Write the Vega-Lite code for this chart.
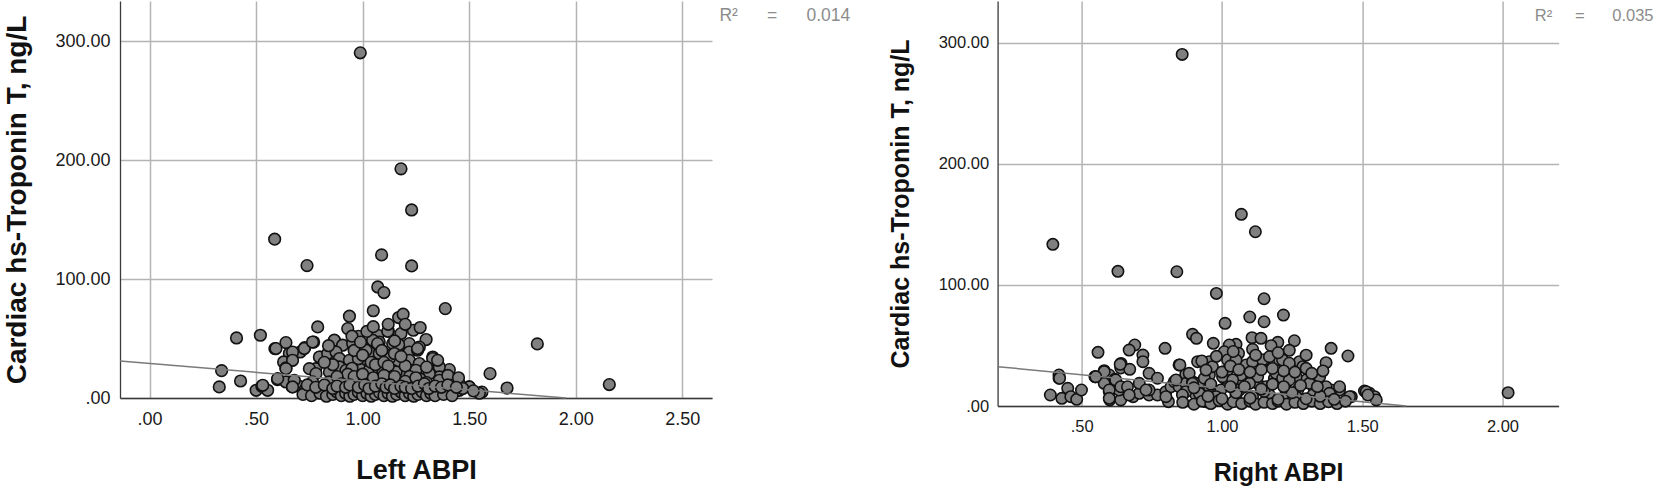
{
"$schema": "https://vega.github.io/schema/vega-lite/v6.json",
"background": "white",
"padding": {"left": 3, "top": 1, "right": 0, "bottom": 0},
"bounds": "flush",
"spacing": 285.6,
"config": {
  "view": {"stroke": null},
  "axis": {"grid": true, "gridColor": "#b4b4b4", "gridWidth": 1.5, "domainColor": "#3a3a3a", "domainWidth": 1.3, "ticks": false, "labelFont": "Liberation Sans", "labelColor": "#1a1a1a", "titleFont": "Liberation Sans", "titleFontWeight": "bold", "titleColor": "#111111", "labelFlush": false, "labelOverlap": false}
},
"datasets": {
  "left": [
{"x":0.989,"y":290.4},{"x":1.180,"y":192.8},{"x":1.230,"y":158.2},{"x":0.587,"y":133.6},{"x":0.739,"y":111.4},{"x":1.089,"y":120.4},{"x":1.230,"y":111.1},{"x":1.071,"y":93.4},{"x":1.100,"y":88.7},{"x":1.050,"y":73.4},{"x":1.169,"y":67.7},{"x":1.190,"y":70.5},{"x":0.938,"y":68.8},{"x":1.388,"y":75.2},{"x":1.820,"y":45.5},{"x":2.158,"y":11.3},{"x":1.598,"y":20.5},{"x":1.678,"y":8.4},{"x":1.560,"y":5.0},{"x":1.500,"y":9.3},{"x":1.407,"y":23.9},
{"x":0.338,"y":23.0},{"x":0.327,"y":9.3},{"x":0.427,"y":14.3},{"x":0.408,"y":50.5},{"x":0.520,"y":52.8},{"x":0.588,"y":41.6},{"x":0.640,"y":46.6},{"x":0.789,"y":59.8},{"x":0.770,"y":47.1},{"x":0.728,"y":42.4},{"x":0.707,"y":38.7},{"x":0.656,"y":37.4},{"x":0.668,"y":31.7},{"x":0.629,"y":30.3},{"x":0.640,"y":25.3},{"x":0.869,"y":48.0},{"x":0.800,"y":34.5},{"x":0.780,"y":24.7},
{"x":0.500,"y":6.5},{"x":0.527,"y":9.8},{"x":0.554,"y":6.5},{"x":0.600,"y":15.5},{"x":0.640,"y":13.5},{"x":0.670,"y":9.3},{"x":0.700,"y":10.0},{"x":0.730,"y":7.0},
{"x":0.930,"y":58.4},{"x":0.980,"y":51.9},{"x":1.121,"y":56.4},{"x":1.180,"y":54.2},{"x":1.238,"y":57.0},{"x":1.270,"y":59.3},{"x":1.298,"y":49.2},{"x":1.071,"y":52.8},{"x":0.867,"y":48.6},{"x":0.906,"y":44.4},{"x":0.953,"y":45.8},{"x":1.008,"y":44.4},{"x":1.055,"y":44.4},{"x":1.078,"y":47.1},{"x":1.141,"y":45.8},{"x":1.172,"y":44.4},{"x":1.219,"y":45.8},{"x":1.266,"y":42.9},{"x":1.219,"y":38.7},{"x":1.258,"y":40.2},{"x":1.329,"y":34.5},{"x":1.345,"y":31.7},{"x":0.593,"y":41.6},{"x":0.726,"y":41.6},{"x":0.765,"y":47.1},{"x":0.671,"y":38.7},{"x":0.671,"y":31.7},{"x":0.640,"y":24.7},
{"x":0.797,"y":34.5},{"x":0.836,"y":37.4},{"x":0.875,"y":38.7},{"x":0.891,"y":33.2},{"x":0.891,"y":26.1},{"x":0.938,"y":31.7},{"x":0.992,"y":31.7},{"x":1.031,"y":38.7},{"x":1.078,"y":37.4},{"x":1.125,"y":35.9},{"x":1.157,"y":30.3},{"x":1.219,"y":31.7},{"x":1.266,"y":29.0},{"x":1.329,"y":33.2},{"x":1.360,"y":26.1},{"x":1.360,"y":17.7},{"x":1.407,"y":14.9},
{"x":0.750,"y":24.7},{"x":0.781,"y":20.5},{"x":0.844,"y":21.9},{"x":0.922,"y":23.3},{"x":0.985,"y":24.7},{"x":1.031,"y":23.3},{"x":1.078,"y":23.3},{"x":1.141,"y":23.3},{"x":1.188,"y":21.9},{"x":1.235,"y":23.3},{"x":1.298,"y":21.9},
{"x":0.601,"y":16.3},{"x":0.679,"y":14.9},{"x":0.765,"y":13.5},{"x":0.844,"y":13.5},{"x":0.922,"y":14.9},{"x":0.969,"y":14.9},{"x":1.031,"y":13.5},{"x":1.078,"y":16.3},{"x":1.157,"y":14.9},{"x":1.235,"y":12.1},{"x":1.282,"y":9.3},{"x":1.360,"y":13.5},{"x":1.438,"y":12.1},{"x":1.501,"y":9.3},
{"x":0.531,"y":10.7},{"x":0.671,"y":9.3},{"x":0.750,"y":7.9},{"x":0.820,"y":5.1},{"x":0.906,"y":7.9},{"x":1.016,"y":6.5},{"x":1.094,"y":7.9},{"x":1.172,"y":6.5},{"x":1.235,"y":3.7},{"x":1.313,"y":6.5},{"x":1.376,"y":5.1},{"x":1.454,"y":6.5},{"x":1.548,"y":4.0},
{"x":0.980,"y":33.0},{"x":0.950,"y":25.0},{"x":0.930,"y":20.0},{"x":1.091,"y":24.7},{"x":1.157,"y":21.9},{"x":1.250,"y":23.3},{"x":1.313,"y":20.5},{"x":1.360,"y":14.9},{"x":1.430,"y":13.5},{"x":1.454,"y":12.1},{"x":1.118,"y":56.1},{"x":1.047,"y":48.6},{"x":1.016,"y":40.2},{"x":1.070,"y":45.8},{"x":1.169,"y":44.9},{"x":1.258,"y":41.6},{"x":1.352,"y":31.7},{"x":1.125,"y":33.2},{"x":1.149,"y":37.4},
{"x":0.96,"y":40},{"x":1.0,"y":36},{"x":1.04,"y":30},{"x":1.06,"y":28},{"x":1.10,"y":30},{"x":1.12,"y":27},{"x":1.2,"y":27},{"x":1.18,"y":35},{"x":1.22,"y":18},{"x":1.27,"y":16},{"x":1.3,"y":13},{"x":0.88,"y":18},{"x":0.86,"y":28},{"x":0.82,"y":30},{"x":0.84,"y":44},{"x":0.95,"y":52},{"x":1.02,"y":56},{"x":0.99,"y":47},{"x":1.05,"y":60},{"x":1.15,"y":48},{"x":1.09,"y":40},{"x":1.2,"y":62},{"x":1.12,"y":62},{"x":0.9,"y":12},{"x":0.96,"y":18},{"x":1.0,"y":20},{"x":1.05,"y":17},{"x":1.1,"y":19},{"x":1.15,"y":18},{"x":1.2,"y":14},{"x":1.25,"y":17},{"x":1.3,"y":26},{"x":1.4,"y":19},{"x":1.45,"y":17},{"x":1.47,"y":8},{"x":1.52,"y":6},{"x":1.42,"y":7},
{"x":0.72,"y":3},{"x":0.76,"y":2},{"x":0.8,"y":4},{"x":0.83,"y":1.5},{"x":0.86,"y":3},{"x":0.88,"y":5},{"x":0.9,"y":2},{"x":0.92,"y":4},{"x":0.94,"y":1.5},{"x":0.96,"y":3},{"x":0.98,"y":5},{"x":1.0,"y":2},{"x":1.02,"y":4},{"x":1.04,"y":1.5},{"x":1.06,"y":3},{"x":1.08,"y":4.5},{"x":1.1,"y":2},{"x":1.12,"y":4},{"x":1.14,"y":1.5},{"x":1.16,"y":3},{"x":1.18,"y":5},{"x":1.2,"y":2},{"x":1.22,"y":4},{"x":1.24,"y":1.5},{"x":1.26,"y":3},{"x":1.28,"y":5},{"x":1.3,"y":2},{"x":1.32,"y":4},{"x":1.34,"y":2},{"x":1.38,"y":3},{"x":1.42,"y":2},
{"x":0.74,"y":11},{"x":0.78,"y":9},{"x":0.82,"y":11},{"x":0.86,"y":8},{"x":0.88,"y":10},{"x":0.92,"y":9},{"x":0.94,"y":11},{"x":0.98,"y":9},{"x":1.01,"y":11},{"x":1.03,"y":8},{"x":1.06,"y":10},{"x":1.09,"y":12},{"x":1.11,"y":9},{"x":1.13,"y":11},{"x":1.15,"y":8},{"x":1.18,"y":10},{"x":1.2,"y":9},{"x":1.23,"y":8},{"x":1.26,"y":10},{"x":1.29,"y":12},{"x":1.31,"y":8},{"x":1.34,"y":10},{"x":1.37,"y":9},{"x":1.4,"y":11},{"x":1.44,"y":9}
  ],
  "right": [
{"x":0.858,"y":290.4},{"x":1.069,"y":158.3},{"x":1.119,"y":143.9},{"x":0.397,"y":133.5},{"x":0.629,"y":111.2},{"x":0.839,"y":110.9},{"x":0.980,"y":93.0},{"x":1.150,"y":88.6},{"x":1.219,"y":75.1},{"x":1.099,"y":73.5},{"x":1.150,"y":69.6},{"x":1.011,"y":68.3},{"x":0.895,"y":59.2},{"x":0.909,"y":55.9},{"x":0.969,"y":51.8},{"x":0.797,"y":47.6},{"x":0.689,"y":50.4},{"x":0.669,"y":46.2},{"x":0.718,"y":42.1},{"x":0.718,"y":36.6},{"x":0.558,"y":44.3},{"x":0.640,"y":35.2},{"x":0.639,"y":31.4},{"x":0.671,"y":30.3},{"x":0.549,"y":24.2},{"x":0.580,"y":29.2},{"x":0.598,"y":25.6},{"x":0.618,"y":22.0},{"x":0.419,"y":25.6},{"x":0.419,"y":22.9},{"x":0.388,"y":9.1},{"x":0.429,"y":6.3},{"x":0.450,"y":14.6},{"x":0.461,"y":7.7},{"x":0.482,"y":5.5},{"x":0.499,"y":13.2},
{"x":1.389,"y":47.6},{"x":1.449,"y":41.3},{"x":1.371,"y":35.8},{"x":1.347,"y":24.2},{"x":1.419,"y":14.6},{"x":1.461,"y":7.7},{"x":1.508,"y":12.4},{"x":1.526,"y":10.5},{"x":1.544,"y":7.7},{"x":1.550,"y":5.0},{"x":2.020,"y":11.0},{"x":1.258,"y":53.9},{"x":1.199,"y":52.6},
{"x":1.107,"y":56.4},{"x":1.139,"y":55.9},{"x":1.050,"y":50.9},{"x":1.026,"y":50.4},{"x":1.109,"y":46.8},{"x":1.175,"y":49.8},{"x":1.008,"y":44.8},{"x":1.059,"y":43.5},
{"x":1.276,"y":36.6},{"x":1.205,"y":38.0},{"x":1.151,"y":38.0},{"x":1.020,"y":38.0},{"x":0.955,"y":36.6},{"x":1.086,"y":33.9},{"x":1.222,"y":36.6},{"x":1.288,"y":32.5},
{"x":1.348,"y":24.2},{"x":1.300,"y":21.5},{"x":1.240,"y":22.9},{"x":1.187,"y":22.9},{"x":1.127,"y":18.7},{"x":1.074,"y":20.1},{"x":1.008,"y":22.9},{"x":0.955,"y":25.6},
{"x":1.419,"y":13.2},{"x":1.389,"y":13.2},{"x":1.330,"y":13.2},{"x":1.270,"y":13.2},{"x":1.229,"y":13.2},{"x":1.163,"y":13.2},{"x":1.062,"y":13.2},{"x":0.996,"y":13.2},{"x":0.943,"y":13.2},
{"x":1.514,"y":11.8},
{"x":0.637,"y":34.4},{"x":0.740,"y":27.0},{"x":0.847,"y":33.9},{"x":0.871,"y":26.2},{"x":0.580,"y":28.3},{"x":0.547,"y":24.2},{"x":0.421,"y":22.9},
{"x":0.580,"y":18.7},{"x":0.598,"y":11.8},{"x":0.600,"y":5.0},{"x":0.639,"y":5.0},{"x":0.633,"y":13.2},{"x":0.659,"y":15.1},{"x":0.683,"y":7.7},{"x":0.705,"y":10.5},{"x":0.740,"y":9.1},{"x":0.770,"y":9.1},{"x":0.800,"y":11.8},{"x":0.818,"y":15.9},{"x":0.830,"y":20.1},{"x":0.847,"y":15.9},{"x":0.871,"y":18.7},{"x":0.895,"y":20.1},{"x":0.919,"y":18.7},{"x":0.937,"y":22.9},{"x":0.943,"y":3.6},{"x":0.907,"y":9.1},{"x":0.871,"y":11.8},{"x":0.809,"y":3.6},
{"x":0.850,"y":33.9},{"x":0.913,"y":36.6},{"x":0.928,"y":37.2},{"x":0.966,"y":32.5},{"x":1.050,"y":38.0},{"x":1.020,"y":29.7},{"x":1.109,"y":36.6},{"x":1.145,"y":38.0},{"x":1.169,"y":40.7},{"x":1.216,"y":38.0},{"x":1.240,"y":35.3},{"x":1.300,"y":31.1},
{"x":0.883,"y":27.0},{"x":0.943,"y":29.7},{"x":1.002,"y":24.2},{"x":1.068,"y":25.6},{"x":1.127,"y":24.2},{"x":1.193,"y":27.0},{"x":1.216,"y":22.9},{"x":1.264,"y":24.2},
{"x":0.836,"y":21.5},{"x":0.895,"y":18.7},{"x":0.955,"y":15.9},{"x":1.038,"y":21.5},{"x":1.098,"y":18.7},{"x":1.157,"y":15.9},{"x":1.240,"y":21.5},{"x":1.312,"y":18.7},{"x":1.371,"y":15.9},{"x":1.419,"y":15.9},
{"x":0.740,"y":13.2},{"x":0.800,"y":7.7},{"x":0.859,"y":9.1},{"x":0.919,"y":10.5},{"x":0.979,"y":7.7},{"x":1.050,"y":9.1},{"x":1.109,"y":7.7},{"x":1.169,"y":9.1},{"x":1.216,"y":6.3},{"x":1.264,"y":7.7},{"x":1.324,"y":9.1},{"x":1.383,"y":10.5},{"x":1.455,"y":7.7},{"x":1.520,"y":9.1},
{"x":0.550,"y":24.2},{"x":0.621,"y":21.5},{"x":0.639,"y":15.9},{"x":0.663,"y":15.9},{"x":0.705,"y":18.7},{"x":0.770,"y":22.9},{"x":0.598,"y":13.2},{"x":0.598,"y":6.3},{"x":0.669,"y":9.1},{"x":0.729,"y":13.2},
{"x":0.86,"y":3},{"x":0.9,"y":1.5},{"x":0.93,"y":4},{"x":0.96,"y":2},{"x":0.99,"y":4.5},{"x":1.02,"y":1.5},{"x":1.04,"y":3.5},{"x":1.07,"y":2},{"x":1.1,"y":4},{"x":1.12,"y":1.5},{"x":1.15,"y":3},{"x":1.18,"y":2},{"x":1.2,"y":4},{"x":1.23,"y":1.5},{"x":1.26,"y":3},{"x":1.29,"y":2},{"x":1.32,"y":4},{"x":1.35,"y":2},{"x":1.38,"y":3.5},{"x":1.41,"y":2},{"x":1.44,"y":4},{"x":1.0,"y":6},{"x":1.1,"y":6.5},{"x":1.2,"y":5.5},{"x":1.3,"y":6},{"x":1.4,"y":5.5},{"x":0.95,"y":8},{"x":1.05,"y":11},{"x":1.15,"y":12},{"x":1.25,"y":11},{"x":1.35,"y":8},
{"x":1.0,"y":28},{"x":1.03,"y":33},{"x":1.06,"y":30},{"x":1.1,"y":28},{"x":1.14,"y":30},{"x":1.18,"y":31},{"x":1.22,"y":29},{"x":1.26,"y":28},{"x":1.32,"y":27},{"x":1.36,"y":29},{"x":0.98,"y":41},{"x":1.04,"y":45},{"x":1.12,"y":42},{"x":1.2,"y":44},{"x":1.24,"y":46},{"x":1.3,"y":42},{"x":1.08,"y":16},{"x":1.14,"y":14},{"x":1.18,"y":18},{"x":1.22,"y":16},{"x":1.28,"y":17},{"x":1.34,"y":16},{"x":0.9,"y":15},{"x":0.96,"y":18},{"x":1.03,"y":16}
  ],
  "leftFit": [{"x":-0.139,"y":31.1},{"x":1.955,"y":0}],
  "rightFit": [{"x":0.2,"y":32.5},{"x":1.657,"y":0}],
  "leftR2": [{"t":"R²\u00a0\u00a0\u00a0\u00a0\u00a0\u00a0=\u00a0\u00a0\u00a0\u00a0\u00a0\u00a00.014"}],
  "rightR2": [{"t":"R²\u00a0\u00a0\u00a0\u00a0\u00a0=\u00a0\u00a0\u00a0\u00a0\u00a0\u00a00.035"}]
},
"hconcat": [
  {
    "width": 592, "height": 397,
    "layer": [
      {"data": {"name": "left"},
       "mark": {"type": "circle", "fill": "#808080", "stroke": "#111111", "strokeWidth": 1.6, "size": 135, "opacity": 1},
       "encoding": {
         "x": {"field": "x", "type": "quantitative", "scale": {"domain": [-0.139, 2.64], "nice": false, "zero": false},
               "axis": {"title": "Left ABPI", "values": [0, 0.5, 1, 1.5, 2, 2.5], "labelExpr": "datum.value < 1 ? replace(format(datum.value, '.2f'), '0.', '.') : format(datum.value, '.2f')", "labelFontSize": 18, "labelPadding": 12, "titleFontSize": 27, "titlePadding": 29}},
         "y": {"field": "y", "type": "quantitative", "scale": {"domain": [0, 334], "nice": false},
               "axis": {"title": "Cardiac hs-Troponin T, ng/L", "values": [0, 100, 200, 300], "labelExpr": "datum.value < 1 ? replace(format(datum.value, '.2f'), '0.', '.') : format(datum.value, '.2f')", "labelFontSize": 18, "labelPadding": 10, "titleFontSize": 28, "titlePadding": 23}}
       }},
      {"data": {"name": "leftFit"},
       "mark": {"type": "line", "color": "#7a7a7a", "strokeWidth": 1.5},
       "encoding": {"x": {"field": "x", "type": "quantitative"}, "y": {"field": "y", "type": "quantitative"}}},
      {"data": {"name": "leftR2"},
       "mark": {"type": "text", "font": "Liberation Sans", "fontSize": 17.5, "color": "#8c8c8c", "align": "left", "baseline": "middle"},
       "encoding": {"x": {"datum": 2.675}, "y": {"datum": 321}, "text": {"field": "t"}}}
    ]
  },
  {
    "width": 561, "height": 405,
    "layer": [
      {"data": {"name": "right"},
       "mark": {"type": "circle", "fill": "#808080", "stroke": "#111111", "strokeWidth": 1.6, "size": 130, "opacity": 1},
       "encoding": {
         "x": {"field": "x", "type": "quantitative", "scale": {"domain": [0.2, 2.2], "nice": false, "zero": false},
               "axis": {"title": "Right ABPI", "values": [0.5, 1, 1.5, 2], "labelExpr": "datum.value < 1 ? replace(format(datum.value, '.2f'), '0.', '.') : format(datum.value, '.2f')", "labelFontSize": 16.5, "labelPadding": 12, "titleFontSize": 25, "titlePadding": 26}},
         "y": {"field": "y", "type": "quantitative", "scale": {"domain": [0, 334.5], "nice": false},
               "axis": {"title": "Cardiac hs-Troponin T, ng/L", "values": [0, 100, 200, 300], "labelExpr": "datum.value < 1 ? replace(format(datum.value, '.2f'), '0.', '.') : format(datum.value, '.2f')", "labelFontSize": 16.5, "labelPadding": 9, "titleFontSize": 25, "titlePadding": 25}}
       }},
      {"data": {"name": "rightFit"},
       "mark": {"type": "line", "color": "#7a7a7a", "strokeWidth": 1.5},
       "encoding": {"x": {"field": "x", "type": "quantitative"}, "y": {"field": "y", "type": "quantitative"}}},
      {"data": {"name": "rightR2"},
       "mark": {"type": "text", "font": "Liberation Sans", "fontSize": 16.5, "color": "#8c8c8c", "align": "left", "baseline": "middle"},
       "encoding": {"x": {"datum": 2.115}, "y": {"datum": 322}, "text": {"field": "t"}}}
    ]
  }
]
}
